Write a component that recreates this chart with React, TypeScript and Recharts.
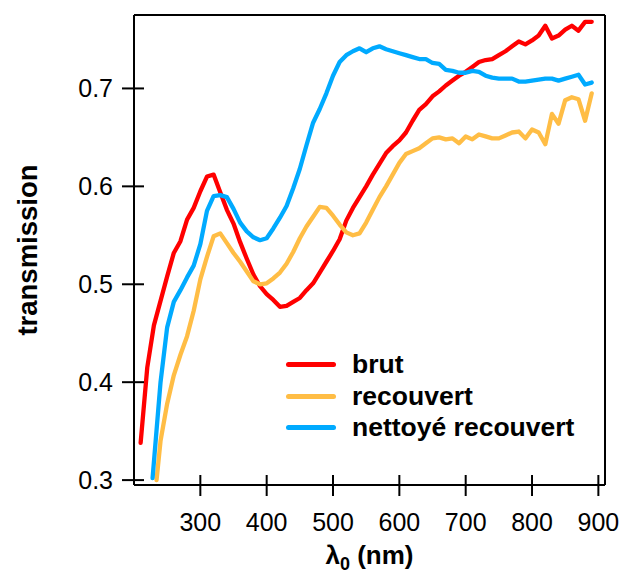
import { LineChart, Line, XAxis, YAxis, Legend, ReferenceLine } from 'recharts';

// wavelengths (nm) and transmission values
const brutNm = [210, 220, 230, 240, 250, 260, 270, 280, 290, 300, 310, 320, 330, 340, 350, 360, 370, 380, 390, 400, 410, 420, 430, 440, 450, 460, 470, 480, 490, 500, 510, 520, 530, 540, 550, 560, 570, 580, 590, 600, 610, 620, 630, 640, 650, 660, 670, 680, 690, 700, 710, 720, 730, 740, 750, 760, 770, 780, 790, 800, 810, 820, 830, 840, 850, 860, 870, 880, 890];
const brut = [0.338, 0.415, 0.458, 0.483, 0.508, 0.532, 0.544, 0.566, 0.578, 0.595, 0.61, 0.612, 0.594, 0.576, 0.562, 0.543, 0.526, 0.51, 0.498, 0.49, 0.484, 0.477, 0.478, 0.482, 0.486, 0.494, 0.501, 0.512, 0.523, 0.534, 0.546, 0.565, 0.578, 0.589, 0.6, 0.612, 0.623, 0.634, 0.641, 0.647, 0.655, 0.667, 0.678, 0.684, 0.692, 0.697, 0.703, 0.708, 0.713, 0.717, 0.722, 0.727, 0.729, 0.73, 0.734, 0.738, 0.743, 0.748, 0.745, 0.749, 0.754, 0.764, 0.751, 0.754, 0.76, 0.764, 0.759, 0.768, 0.768];

const recouvertNm = [234, 240, 250, 260, 270, 280, 290, 300, 310, 320, 330, 340, 350, 360, 370, 380, 390, 400, 410, 420, 430, 440, 450, 460, 470, 480, 490, 500, 510, 520, 530, 540, 550, 560, 570, 580, 590, 600, 610, 620, 630, 640, 650, 660, 670, 680, 690, 700, 710, 720, 730, 740, 750, 760, 770, 780, 790, 800, 810, 820, 830, 840, 850, 860, 870, 880, 890];
const recouvert = [0.3, 0.34, 0.378, 0.407, 0.428, 0.447, 0.473, 0.505, 0.528, 0.549, 0.552, 0.542, 0.532, 0.523, 0.513, 0.503, 0.5, 0.501, 0.506, 0.512, 0.521, 0.533, 0.547, 0.559, 0.569, 0.579, 0.578, 0.57, 0.561, 0.553, 0.55, 0.552, 0.563, 0.576, 0.589, 0.6, 0.612, 0.624, 0.633, 0.636, 0.639, 0.644, 0.649, 0.65, 0.648, 0.649, 0.644, 0.651, 0.648, 0.653, 0.651, 0.649, 0.649, 0.652, 0.655, 0.656, 0.649, 0.658, 0.655, 0.643, 0.674, 0.664, 0.688, 0.691, 0.689, 0.667, 0.695];

const nettoyeNm = [228, 240, 250, 260, 270, 280, 290, 300, 310, 320, 330, 340, 350, 360, 370, 380, 390, 400, 410, 420, 430, 440, 450, 460, 470, 480, 490, 500, 510, 520, 530, 540, 550, 560, 570, 580, 590, 600, 610, 620, 630, 640, 650, 660, 670, 680, 690, 700, 710, 720, 730, 740, 750, 760, 770, 780, 790, 800, 810, 820, 830, 840, 850, 860, 870, 880, 890];
const nettoye = [0.302, 0.4, 0.456, 0.482, 0.494, 0.507, 0.519, 0.541, 0.575, 0.59, 0.591, 0.589, 0.577, 0.563, 0.554, 0.548, 0.545, 0.547, 0.557, 0.568, 0.58, 0.598, 0.618, 0.642, 0.665, 0.679, 0.695, 0.713, 0.727, 0.734, 0.738, 0.741, 0.737, 0.741, 0.743, 0.74, 0.738, 0.736, 0.734, 0.732, 0.73, 0.73, 0.726, 0.725, 0.719, 0.718, 0.716, 0.716, 0.718, 0.717, 0.713, 0.711, 0.71, 0.71, 0.71, 0.707, 0.707, 0.708, 0.709, 0.71, 0.71, 0.708, 0.71, 0.712, 0.714, 0.704, 0.706];

const xTicks = [300, 400, 500, 600, 700, 800, 900];
const yTicks = [0.3, 0.4, 0.5, 0.6, 0.7];
const xDomain = [200, 910];
const yDomain = [0.295, 0.775];

const seriesNames = ['brut', 'recouvert', 'nettoyé recouvert'];
const colors = ['#ff0000', '#ffbd45', '#00aaff'];

const FONT = '"Liberation Sans", Arial, Helvetica, sans-serif';

const toPoints = (xs: number[], ys: number[]) => xs.map((x, i) => ({ x, y: ys[i] }));

const XTick = ({ x, y, payload }: any) => (
  <g>
    <line x1={x} x2={x} y1={y - 10} y2={y + 11} stroke="#000" strokeWidth={2} />
    <text x={x} y={y + 46} textAnchor="middle" fontSize={25} fontFamily={FONT} fill="#000">
      {payload.value}
    </text>
  </g>
);

const YTick = ({ x, y, payload }: any) => (
  <g>
    <line x1={x - 12} x2={x + 10} y1={y} y2={y} stroke="#000" strokeWidth={2} />
    <text x={x - 21} y={y} dy="0.36em" textAnchor="end" fontSize={25} fontFamily={FONT} fill="#000">
      {payload.value.toFixed(1)}
    </text>
  </g>
);

const YTitle = ({ viewBox }: any) => {
  const cx = viewBox.x + 37;
  const cy = viewBox.y + viewBox.height / 2;
  return (
    <text x={cx} y={cy} transform={`rotate(-90 ${cx} ${cy})`} textAnchor="middle" fontSize={27.5} fontWeight="bold" fontFamily={FONT} fill="#000">
      transmission
    </text>
  );
};

const XTitle = ({ viewBox }: any) => (
  <text x={viewBox.x + viewBox.width / 2} y={viewBox.y + 79} textAnchor="middle" fontSize={26} fontWeight="bold" fontFamily={FONT} fill="#000">
    <tspan>λ</tspan>
    <tspan dy={6} fontSize={18}>0</tspan>
    <tspan dy={-6}> (nm)</tspan>
  </text>
);

const LegendBox = () => (
  <div style={{ fontFamily: FONT, fontWeight: 'bold', fontSize: 26.5, color: '#000' }}>
    {seriesNames.map((name, i) => (
      <div key={name} style={{ display: 'flex', alignItems: 'center', height: 31.5, whiteSpace: 'nowrap' }}>
        <span style={{ display: 'inline-block', width: 50, height: 5, borderRadius: 3, background: colors[i], marginRight: 16 }} />
        <span>{name}</span>
      </div>
    ))}
  </div>
);

export default function App() {
  const series = [
    toPoints(brutNm, brut),
    toPoints(recouvertNm, recouvert),
    toPoints(nettoyeNm, nettoye),
  ];
  return (
    <div style={{ position: 'absolute', left: 0, top: 0, background: '#fff' }}>
      <LineChart width={622} height={577} margin={{ top: 15, right: 17, left: 0, bottom: 0 }}>
        <XAxis
          type="number"
          dataKey="x"
          domain={xDomain}
          ticks={xTicks}
          allowDataOverflow
          height={92}
          tickSize={0}
          tickMargin={0}
          tickLine={false}
          axisLine={{ stroke: '#000', strokeWidth: 2 }}
          tick={<XTick />}
          label={<XTitle />}
        />
        <YAxis
          type="number"
          domain={yDomain}
          ticks={yTicks}
          allowDataOverflow
          width={134}
          tickSize={0}
          tickMargin={0}
          tickLine={false}
          axisLine={{ stroke: '#000', strokeWidth: 2 }}
          tick={<YTick />}
          label={<YTitle />}
        />
        <ReferenceLine x={xDomain[1]} stroke="#000" strokeWidth={2} />
        <ReferenceLine y={yDomain[1]} stroke="#000" strokeWidth={2} />
        {series.map((pts, i) => (
          <Line
            key={seriesNames[i]}
            data={pts}
            dataKey="y"
            name={seriesNames[i]}
            type="linear"
            stroke={colors[i]}
            strokeWidth={4.3}
            strokeLinejoin="round"
            strokeLinecap="round"
            dot={false}
            activeDot={false}
            isAnimationActive={false}
          />
        ))}
        <Legend
          layout="vertical"
          align="center"
          verticalAlign="middle"
          wrapperStyle={{ left: 286, top: 349, width: 320 }}
          content={<LegendBox />}
        />
      </LineChart>
    </div>
  );
}
